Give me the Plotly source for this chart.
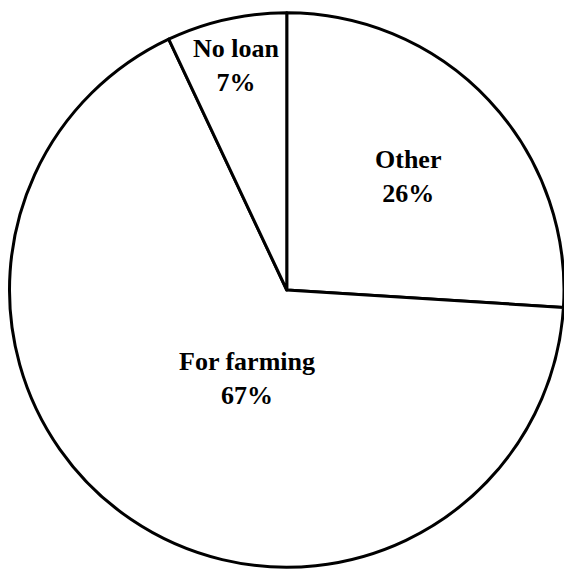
import math
import plotly.graph_objects as go

# Loan use shares (percent)
labels = ["Other", "For farming", "No loan"]
values = [26, 67, 7]

# Label placement: fraction of the radius and angular nudge (degrees)
label_radius = [0.60, 0.35, 0.83]
label_nudge = [0, -10, 0]

W, H = 564, 569
dom_x = [9.5 / W, 1.0]
dom_y = [1.5 / H, 556.5 / H]

fig = go.Figure(
    go.Pie(
        labels=labels,
        values=values,
        sort=False,
        direction="clockwise",
        rotation=0,
        marker=dict(colors=["white"] * len(labels), line=dict(color="black", width=3)),
        textinfo="none",
        domain=dict(x=dom_x, y=dom_y),
        showlegend=False,
        hoverinfo="label+percent",
    )
)

# Pie geometry in pixels
cx = (dom_x[0] + dom_x[1]) / 2 * W
cy = (dom_y[0] + dom_y[1]) / 2 * H
r = min((dom_x[1] - dom_x[0]) * W, (dom_y[1] - dom_y[0]) * H) / 2

total = sum(values)
cum = 0
for lab, v, rf, nudge in zip(labels, values, label_radius, label_nudge):
    mid = (cum + v / 2) / total * 360 + nudge
    cum += v
    a = math.radians(mid)
    px = cx + rf * r * math.sin(a)
    py = cy + rf * r * math.cos(a)
    pct = round(v / total * 100)
    fig.add_annotation(
        x=px / W,
        y=py / H,
        xref="paper",
        yref="paper",
        text=f"<b>{lab}</b><br><b>{pct}%</b>",
        showarrow=False,
        xanchor="center",
        yanchor="middle",
        align="center",
        font=dict(family="Liberation Serif", size=26, color="black"),
    )

fig.update_layout(
    width=W,
    height=H,
    margin=dict(l=0, r=0, t=0, b=0),
    paper_bgcolor="white",
    plot_bgcolor="white",
)

fig.write_html("out.html")
